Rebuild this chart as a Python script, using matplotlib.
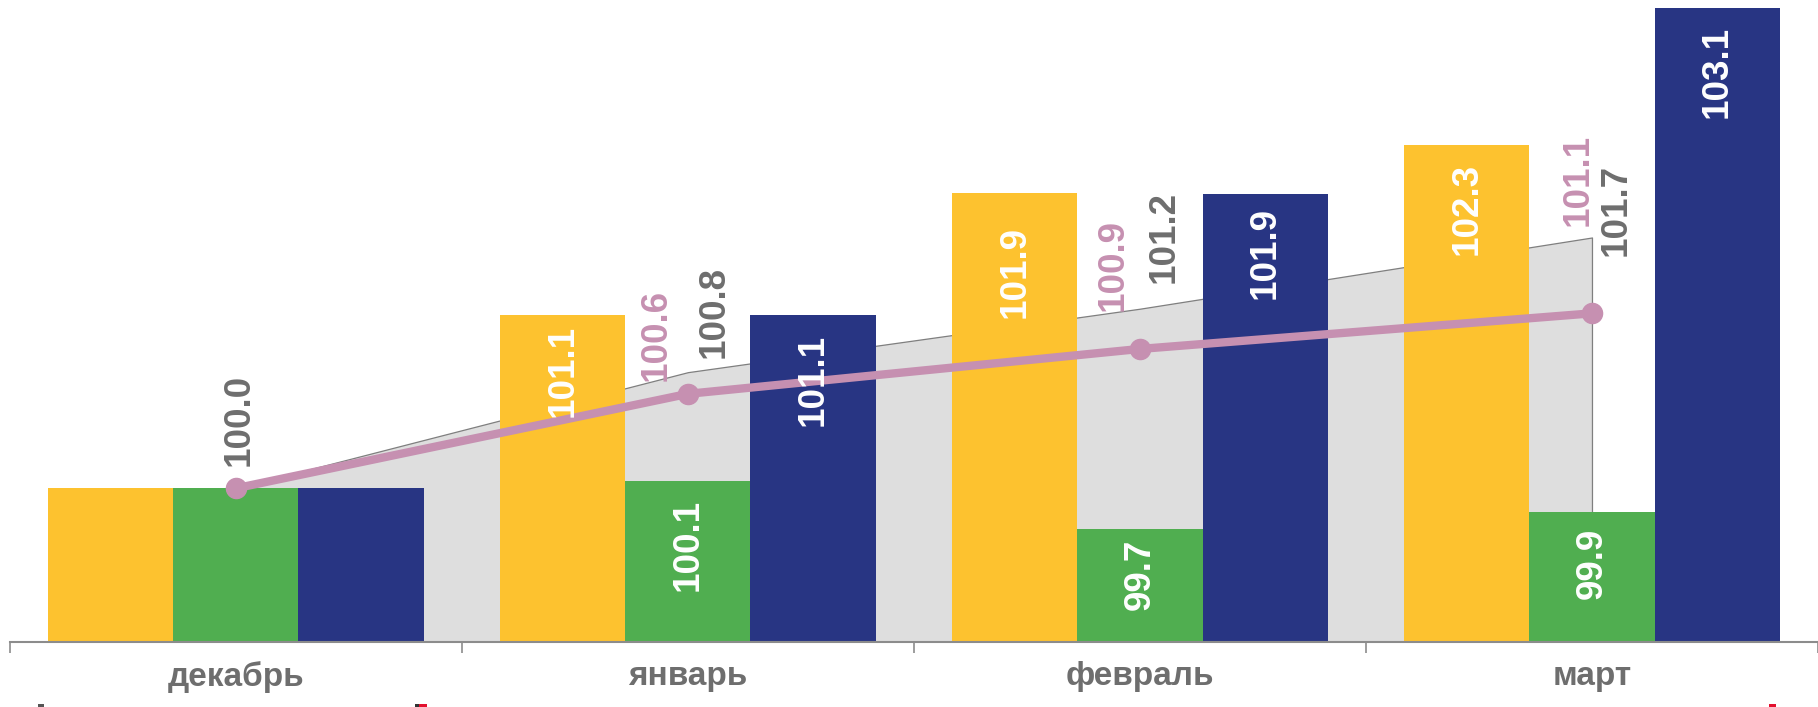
import matplotlib
matplotlib.use('Agg')
import matplotlib.pyplot as plt
from matplotlib.patches import Rectangle
import numpy as np

# ---- data ----
months = ['декабрь', 'январь', 'февраль', 'март']
yellow_vals = [100.0, 101.12, 101.91, 102.22]
green_vals = [100.0, 100.05, 99.74, 99.85]
blue_vals = [100.0, 101.12, 101.90, 103.10]
yellow_labels = ['', '101.1', '101.9', '102.3']
green_labels = ['', '100.1', '99.7', '99.9']
blue_labels = ['', '101.1', '101.9', '103.1']
line_vals = [100.0, 100.61, 100.90, 101.13]
line_labels = ['', '100.6', '100.9', '101.1']
area_vals = [100.0, 100.75, 101.16, 101.62]
area_labels = ['100.0', '100.8', '101.2', '101.7']

# ---- style ----
YELLOW = '#FDC22F'
GREEN = '#50AE50'
BLUE = '#283583'
PINK = '#C690B1'
GREY_TXT = '#6E6E6E'
AREA = '#DEDEDE'
AXIS = '#8C8C8C'
FONT = ['Liberation Sans', 'DejaVu Sans']
LBL_SIZE = 26.5

W, H = 1818, 707
fig = plt.figure(figsize=(W / 100, H / 100), dpi=100)
x0_px, axis_px, cat_px = 9.8, 641.7, 453.6
ax = fig.add_axes([x0_px / W, (H - axis_px) / H, (W - x0_px) / W, axis_px / H])
ymin, ymax = 99.009, 103.154
ax.set_xlim(-0.5, -0.5 + (W - x0_px) / cat_px)
ax.set_ylim(ymin, ymax)

x = np.arange(len(months))
w = 0.277

# area
ax.fill_between(x, area_vals, ymin, facecolor=AREA, edgecolor='#7F7F7F',
                linewidth=0.9, zorder=1)

# bars
ax.bar(x - w, yellow_vals, w, color=YELLOW, zorder=2)
ax.bar(x, green_vals, w, color=GREEN, zorder=2)
ax.bar(x + w, blue_vals, w, color=BLUE, zorder=2)

# line
ax.plot(x, line_vals, color=PINK, lw=6, marker='o', ms=14.5, zorder=4,
        solid_capstyle='round')

# bar labels (manual distance below bar top, pixels)
yellow_off = [0, 10, 33, 18]
green_off = [0, 18, 10, 16]
blue_off = [0, 19, 13, 18]
for offs, vals, labs, dys in ((-w, yellow_vals, yellow_labels, yellow_off),
                              (0, green_vals, green_labels, green_off),
                              (w, blue_vals, blue_labels, blue_off)):
    for xi, v, lab, dy in zip(x, vals, labs, dys):
        if lab:
            ax.annotate(lab, (xi + offs, v), xytext=(0, -dy),
                        textcoords='offset pixels', rotation=90,
                        ha='center', va='top', color='white',
                        fontsize=LBL_SIZE, fontweight='bold', family=FONT,
                        zorder=5)

# area / line labels (manual offsets in pixels)
area_off = [(3, 22), (26, 14), (24, 26), (24, -19)]
line_off = [(0, 0), (-32, 13), (-27, 38), (-14, 87)]
for xi, v, lab, (dx, dy) in zip(x, area_vals, area_labels, area_off):
    ax.annotate(lab, (xi, v), xytext=(dx, dy), textcoords='offset pixels',
                rotation=90, ha='center', va='bottom', color=GREY_TXT,
                fontsize=LBL_SIZE, fontweight='bold', family=FONT, zorder=5)
for xi, v, lab, (dx, dy) in zip(x, line_vals, line_labels, line_off):
    if lab:
        ax.annotate(lab, (xi, v), xytext=(dx, dy), textcoords='offset pixels',
                    rotation=90, ha='center', va='bottom', color=PINK,
                    fontsize=LBL_SIZE, fontweight='bold', family=FONT,
                    zorder=5)

# axes styling
for s in ('top', 'right', 'left'):
    ax.spines[s].set_visible(False)
ax.spines['bottom'].set_color(AXIS)
ax.spines['bottom'].set_linewidth(1.5)
ax.spines['bottom'].set_zorder(6)
ax.set_yticks([])
ax.set_xticks(x)
ax.set_xticklabels(months, fontsize=24, fontweight='bold', color=GREY_TXT,
                   family=FONT)
ax.set_xticks(np.arange(-0.5, len(months), 1.0), minor=True)
ax.tick_params(axis='x', which='major', length=0, pad=14)
ax.tick_params(axis='x', which='minor', length=8, width=1.2, color=AXIS,
               direction='out')
ax.patch.set_alpha(0)

# small cropped remnants at the very bottom edge
for (px, pw, col) in ((38, 6, '#555555'), (415, 4, '#333333'),
                      (419, 8, '#E3102E'), (1769, 7, '#E3102E')):
    fig.add_artist(Rectangle((px / W, 0), pw / W, 3 / H,
                             transform=fig.transFigure, color=col, lw=0))

fig.savefig('out.png', dpi=100, facecolor='white')
